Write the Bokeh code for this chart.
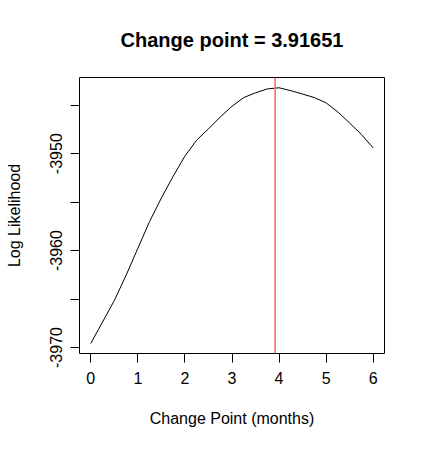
from bokeh.plotting import figure
from bokeh.models import Span, Range1d, FixedTicker
from bokeh.embed import file_html
from bokeh.resources import INLINE

# log likelihood profile over change point (months)
months = [0, 0.5, 0.75, 1.0, 1.25, 1.5, 1.75, 2.0, 2.25, 2.5, 2.75, 3.0,
          3.25, 3.5, 3.75, 4.0, 4.25, 4.5, 4.75, 5.0, 5.25, 5.5, 5.75, 6.0]
loglik = [-3969.58, -3965.15, -3962.55, -3959.76, -3956.99, -3954.57,
          -3952.33, -3950.25, -3948.6, -3947.44, -3946.22, -3945.11,
          -3944.21, -3943.72, -3943.32, -3943.2, -3943.5, -3943.85,
          -3944.21, -3944.76, -3945.7, -3946.84, -3948.02, -3949.41]
change_point = 3.91651

x_ticks = [0, 1, 2, 3, 4, 5, 6]
y_ticks = [-3970, -3965, -3960, -3955, -3950, -3945]
y_tick_labels = ["-3970", "", "-3960", "", "-3950", ""]

p = figure(width=417, height=443, output_backend="svg", toolbar_location=None,
           title="Change point = %.5f" % change_point,
           x_range=Range1d(-0.24, 6.24), y_range=Range1d(-3970.62, -3942.14),
           x_axis_label="Change Point (months)", y_axis_label="Log Likelihood",
           min_border_left=79, min_border_right=33, min_border_top=0, min_border_bottom=90)

p.line(months, loglik, line_color="black", line_width=1)
p.add_layout(Span(location=change_point, dimension="height", line_color="#ff6b6b", line_width=1.6))

p.title.align = "center"
p.title.text_font = "Liberation Sans"
p.title.text_font_size = "20px"
p.title.text_font_style = "bold"
p.title.text_color = "black"
p.title.standoff = 53

p.outline_line_color = "black"
p.outline_line_width = 1
p.grid.visible = False
p.background_fill_color = "white"

for ax in (p.xaxis[0], p.yaxis[0]):
    ax.axis_line_color = None
    ax.major_tick_in = 0
    ax.major_tick_out = 9
    ax.major_tick_line_color = "black"
    ax.minor_tick_line_color = None
    ax.major_label_text_font = "Liberation Sans"
    ax.major_label_text_font_size = "16px"
    ax.major_label_text_color = "black"
    ax.axis_label_text_font = "Liberation Sans"
    ax.axis_label_text_font_size = "16px"
    ax.axis_label_text_font_style = "normal"
    ax.axis_label_text_color = "black"

p.xaxis[0].ticker = FixedTicker(ticks=x_ticks)
p.xaxis[0].major_label_standoff = 9
p.xaxis[0].axis_label_standoff = 23

p.yaxis[0].ticker = FixedTicker(ticks=y_ticks)
p.yaxis[0].major_label_overrides = {t: s for t, s in zip(y_ticks, y_tick_labels)}
p.yaxis[0].major_label_orientation = "parallel"
p.yaxis[0].major_label_standoff = 8
p.yaxis[0].axis_label_standoff = 25

open("out.html", "w").write(file_html(p, INLINE))
